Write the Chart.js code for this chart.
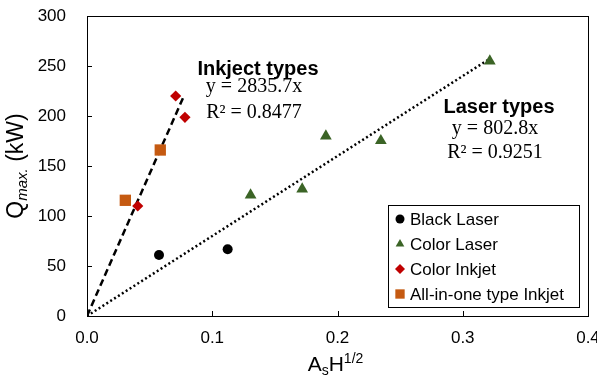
<!DOCTYPE html>
<html><head><meta charset="utf-8">
<script src="https://cdn.jsdelivr.net/npm/chart.js@4/dist/chart.umd.min.js"></script>
<style>html,body{margin:0;padding:0;background:#fff}#wrap{width:597px;height:376px}</style>
</head><body><div id="wrap"><canvas id="c" width="597" height="376"></canvas></div>
<script>
const blackLaserX = [0.0575, 0.1123];
const blackLaserY = [61, 66.7];
const colorLaserX = [0.1306, 0.1718, 0.1907, 0.2346, 0.3216];
const colorLaserY = [121, 127, 180, 175.3, 255];
const colorInkjetX = [0.0405, 0.0708, 0.0782];
const colorInkjetY = [110, 220, 198.7];
const allInOneX = [0.0306, 0.0585];
const allInOneY = [115.7, 166];
const inkjetFitX = [0, 0.0777];
const inkjetFitY = [0, 221];
const laserFitX = [0, 0.320];
const laserFitY = [0, 256];
const xTicks = [0, 0.1, 0.2, 0.3, 0.4];
const yTicks = [0, 50, 100, 150, 200, 250, 300];
const seriesNames = ['Black Laser', 'Color Laser', 'Color Inkjet', 'All-in-one type Inkjet'];
const inkjetLabel = ['Inkject types', 'y = 2835.7x', 'R\u00B2 = 0.8477'];
const laserLabel = ['Laser types', 'y = 802.8x', 'R\u00B2 = 0.9251'];

const pts = (xs, ys) => xs.map((x, i) => ({x: x, y: ys[i]}));
const GREEN = '#3B6426', RED = '#C00000', ORANGE = '#C55A11';
const SANS = '"Liberation Sans", Arial, sans-serif';
const SERIF = '"Liberation Serif", "Times New Roman", serif';

const markerStyles = [
  {pointStyle: 'circle', radius: 5, color: '#000', lr: 4.5},
  {pointStyle: 'triangle', radius: 6.8, color: GREEN, lr: 5},
  {pointStyle: 'rectRot', radius: 5.6, color: RED, lr: 5},
  {pointStyle: 'rect', radius: 8, color: ORANGE, lr: 6.6}
];

const decor = {
  id: 'decor',
  afterDraw(chart) {
    const ctx = chart.ctx, a = chart.chartArea;
    const xs = chart.scales.x, ys = chart.scales.y;
    ctx.save();
    ctx.strokeStyle = '#000'; ctx.lineWidth = 1;
    ctx.strokeRect(Math.round(a.left) + 0.5, Math.round(a.top) + 0.5, Math.round(a.right - a.left), Math.round(a.bottom - a.top));
    ctx.beginPath();
    xTicks.forEach(v => { const px = Math.round(xs.getPixelForValue(v)) + 0.5; ctx.moveTo(px, a.bottom); ctx.lineTo(px, a.bottom - 5); });
    yTicks.forEach(v => { const py = Math.round(ys.getPixelForValue(v)) + 0.5; ctx.moveTo(a.left, py); ctx.lineTo(a.left + 5, py); });
    ctx.stroke();

    ctx.fillStyle = '#000'; ctx.textAlign = 'center'; ctx.textBaseline = 'alphabetic';
    const ann = (lines, cx, b0, cx2, b1, b2) => {
      ctx.font = 'bold 20px ' + SANS; ctx.fillText(lines[0], cx, b0);
      ctx.font = '20px ' + SERIF; ctx.fillText(lines[1], cx2, b1); ctx.fillText(lines[2], cx2, b2);
    };
    ann(inkjetLabel, 258, 75, 254, 92, 118);
    ann(laserLabel, 499, 113, 495, 134, 158);

    const lx = 388.5, ly = 205.5, lw = 191, lh = 102;
    ctx.fillStyle = '#fff'; ctx.fillRect(lx, ly, lw, lh);
    ctx.strokeStyle = '#000'; ctx.strokeRect(lx, ly, lw, lh);
    ctx.textAlign = 'left'; ctx.font = '17px ' + SANS;
    seriesNames.forEach((name, i) => {
      const base = 225 + i * 25;
      const m = markerStyles[i];
      ctx.fillStyle = m.color; ctx.strokeStyle = m.color;
      Chart.helpers.drawPoint(ctx, {pointStyle: m.pointStyle, radius: m.lr, rotation: 0, borderWidth: 0}, 400, base - 6);
      ctx.fillStyle = '#000';
      ctx.fillText(name, 410, base);
    });

    ctx.save();
    ctx.translate(23, 166);
    ctx.rotate(-Math.PI / 2);
    ctx.textAlign = 'left';
    const f1 = '23px ' + SANS, f2 = 'italic 15px ' + SANS;
    ctx.font = f1; const wQ = ctx.measureText('Q').width; const wK = ctx.measureText(' (kW)').width;
    ctx.font = f2; const wM = ctx.measureText('max.').width;
    let x0 = -(wQ + wM + wK) / 2;
    ctx.font = f1; ctx.fillText('Q', x0, 0);
    ctx.font = f2; ctx.fillText('max.', x0 + wQ, 4);
    ctx.font = f1; ctx.fillText(' (kW)', x0 + wQ + wM, 0);
    ctx.restore();

    ctx.textAlign = 'left';
    const g1 = '21px ' + SANS, g2 = '14px ' + SANS;
    ctx.font = g1; const wA = ctx.measureText('A').width, wH = ctx.measureText('H').width;
    ctx.font = g2; const ws = ctx.measureText('s').width, wh = ctx.measureText('1/2').width;
    let sx = (a.left + a.right) / 2 - (wA + ws + wH + wh) / 2 - 2;
    const bl = 371;
    ctx.font = g1; ctx.fillText('A', sx, bl); sx += wA;
    ctx.font = g2; ctx.fillText('s', sx, bl + 4); sx += ws;
    ctx.font = g1; ctx.fillText('H', sx, bl); sx += wH;
    ctx.font = g2; ctx.fillText('1/2', sx, bl - 8);
    ctx.restore();
  }
};

const scatterSet = (label, xs, ys, i) => ({
  label: label, data: pts(xs, ys),
  pointStyle: markerStyles[i].pointStyle, pointRadius: markerStyles[i].radius,
  pointBackgroundColor: markerStyles[i].color, pointBorderColor: markerStyles[i].color,
  pointBorderWidth: 0, showLine: false
});

const noPad = s => { s.paddingTop = 0; s.paddingBottom = 0; s.paddingLeft = 0; s.paddingRight = 0; };

new Chart(document.getElementById('c'), {
  type: 'scatter',
  data: {
    datasets: [
      scatterSet(seriesNames[0], blackLaserX, blackLaserY, 0),
      scatterSet(seriesNames[1], colorLaserX, colorLaserY, 1),
      scatterSet(seriesNames[2], colorInkjetX, colorInkjetY, 2),
      scatterSet(seriesNames[3], allInOneX, allInOneY, 3),
      {label: 'Inkjet fit', data: pts(inkjetFitX, inkjetFitY), showLine: true, pointRadius: 0,
       borderColor: '#000', borderWidth: 2.5, borderDash: [7, 4], fill: false},
      {label: 'Laser fit', data: pts(laserFitX, laserFitY), showLine: true, pointRadius: 0,
       borderColor: '#000', borderWidth: 2.5, borderDash: [2, 2.6], fill: false}
    ]
  },
  options: {
    responsive: false, animation: false, devicePixelRatio: 1,
    layout: {padding: {top: 16, right: 9, left: 0, bottom: 0}},
    plugins: {legend: {display: false}, tooltip: {enabled: false}},
    scales: {
      x: {
        type: 'linear', min: 0, max: 0.4,
        afterBuildTicks: s => { s.ticks = xTicks.map(v => ({value: v})); },
        afterFit: s => { s.height = 60; noPad(s); },
        grid: {display: false, drawTicks: false}, border: {display: false},
        ticks: {padding: 12, color: '#000', font: {family: SANS, size: 17}, callback: v => Number(v).toFixed(1), maxRotation: 0}
      },
      y: {
        type: 'linear', min: 0, max: 300,
        afterBuildTicks: s => { s.ticks = yTicks.map(v => ({value: v})); },
        afterFit: s => { s.width = 87; noPad(s); },
        grid: {display: false, drawTicks: false}, border: {display: false},
        ticks: {padding: 21, color: '#000', font: {family: SANS, size: 17}, callback: v => String(v)}
      }
    }
  },
  plugins: [decor]
});
</script>
</body></html>
